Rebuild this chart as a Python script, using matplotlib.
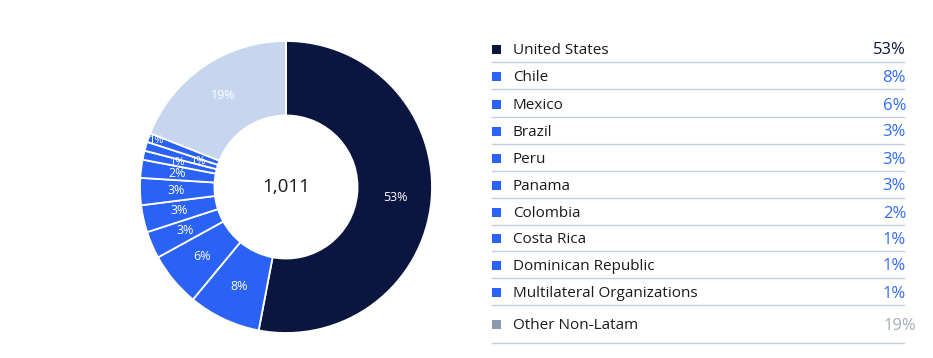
import matplotlib
matplotlib.use("Agg")
import matplotlib.pyplot as plt
import numpy as np

categories = ["United States", "Chile", "Mexico", "Brazil", "Peru", "Panama",
              "Colombia", "Costa Rica", "Dominican Republic",
              "Multilateral Organizations", "Other Non-Latam"]
values = [53, 8, 6, 3, 3, 3, 2, 1, 1, 1, 19]
total_label = "1,011"

NAVY = "#0b1640"
BLUE = "#2962f4"
LIGHT = "#c6d6ee"
GREY_MARK = "#8c9ab0"
wedge_colors = [NAVY] + [BLUE] * 9 + [LIGHT]
marker_colors = [NAVY] + [BLUE] * 9 + [GREY_MARK]
value_colors = [NAVY] + ["#2f6cf2"] * 9 + ["#a3abb9"]
# radial placement of the in-ring labels (fraction of outer radius)
label_r = [0.75] * 7 + [0.77, 0.63, 0.95] + [0.76]

plt.rcParams["font.family"] = ["Open Sans", "DejaVu Sans"]

fig = plt.figure(figsize=(9.33, 3.58), dpi=100)
W, H = 933, 358

# Donut
cx, cy, R = 286, 187, 146
ax = fig.add_axes([(cx - R) / W, (H - cy - R) / H, 2 * R / W, 2 * R / H])
wedges, _ = ax.pie(values, colors=wedge_colors, startangle=90, counterclock=False,
                   radius=1.0, wedgeprops=dict(width=0.51, edgecolor="white", linewidth=1.3))
ax.set_xlim(-1, 1)
ax.set_ylim(-1, 1)
ax.set_aspect("equal")
ax.axis("off")

for w, v, r in zip(wedges, values, label_r):
    ang = np.deg2rad((w.theta1 + w.theta2) / 2)
    fs = 9 if v > 1 else 8
    ax.text(r * np.cos(ang), r * np.sin(ang), f"{v}%", color="white",
            ha="center", va="center", fontsize=fs)

ax.text(0, 0, total_label, ha="center", va="center", fontsize=13.5, color="#1a1a1a")

# Legend
lax = fig.add_axes([0, 0, 1, 1])
lax.set_xlim(0, W)
lax.set_ylim(H, 0)
lax.axis("off")

row_y = [49, 76, 104, 131, 158, 185, 212, 238, 265, 292, 324]
for i, (cat, v) in enumerate(zip(categories, values)):
    y = row_y[i]
    lax.add_patch(plt.Rectangle((492, y - 4.5), 9, 9, color=marker_colors[i], lw=0))
    lax.text(513, y + 1.5, cat, ha="left", va="center", fontsize=11, color="#1a1a1a")
    xr = 906 if i < len(values) - 1 else 916
    lax.text(xr, y + 1.5, f"{v}%", ha="right", va="center", fontsize=12, color=value_colors[i])
    ly = y + 12.5 if i < len(values) - 1 else y + 19
    lax.plot([492, 904], [ly, ly], color="#c3cde0", lw=1)

fig.savefig("out.png", dpi=100)
